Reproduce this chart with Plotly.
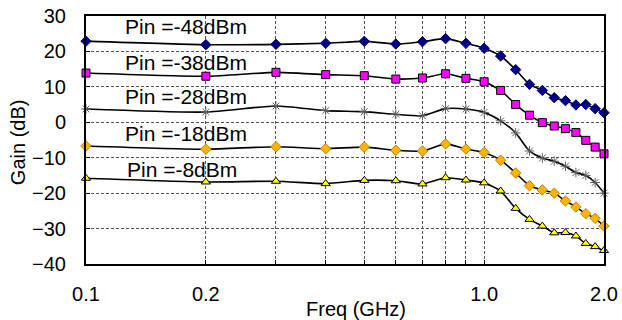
import plotly.graph_objects as go

freq = [0.1, 0.2, 0.3, 0.4, 0.5, 0.6, 0.7, 0.8, 0.9, 1.0,
        1.1, 1.2, 1.3, 1.4, 1.5, 1.6, 1.7, 1.8, 1.9, 2.0]

gain_m48 = [22.9, 21.9, 22.0, 22.3, 22.85, 22.1, 22.75, 23.6, 22.3, 20.9,
            18.7, 14.85, 10.7, 9.0, 6.95, 6.1, 4.9, 5.0, 3.85, 2.7]
gain_m38 = [13.9, 13.0, 14.1, 13.45, 13.15, 12.2, 12.5, 13.7, 12.4, 11.45,
            9.0, 5.0, 2.0, -0.1, -1.05, -1.8, -2.9, -5.1, -7.0, -8.9]
gain_m28 = [3.75, 2.9, 4.6, 3.3, 3.0, 2.25, 1.85, 3.85, 3.75, 2.8,
            0.4, -3.0, -8.1, -10.1, -11.0, -12.4, -14.2, -15.0, -17.0, -20.0]
gain_m18 = [-6.7, -7.6, -6.9, -7.45, -7.0, -7.9, -8.1, -6.1, -7.55, -8.5,
            -10.7, -14.3, -17.9, -19.1, -20.0, -22.2, -23.9, -25.8, -27.1, -29.3]
gain_m8 = [-15.8, -16.85, -16.65, -17.3, -16.4, -16.5, -17.4, -15.65, -16.3, -17.1,
           -19.4, -24.3, -27.4, -29.3, -31.2, -31.1, -32.1, -34.2, -35.1, -36.2]

labels = ["Pin =-48dBm", "Pin =-38dBm", "Pin =-28dBm", "Pin =-18dBm", "Pin =-8dBm"]

x_tickvals = [0.1, 0.2, 0.3, 0.4, 0.5, 0.6, 0.7, 0.8, 0.9, 1.0, 2.0]
x_ticktext = ["0.1", "0.2", "", "", "", "", "", "", "", "1.0", "2.0"]
y_tickvals = [-40, -30, -20, -10, 0, 10, 20, 30]

FONT = "Arial, Liberation Sans, sans-serif"

series = [
    (gain_m48, dict(symbol="diamond", size=8, color="#000080",
                    line=dict(color="#000080", width=1))),
    (gain_m38, dict(symbol="square", size=8, color="#FF00FF",
                    line=dict(color="#000000", width=1))),
    (gain_m28, dict(symbol="asterisk-open", size=8, color="#606060",
                    line=dict(color="#606060", width=1))),
    (gain_m18, dict(symbol="diamond", size=8, color="#FFB400",
                    line=dict(color="#C08000", width=1))),
    (gain_m8, dict(symbol="triangle-up", size=8, color="#FFFF00",
                   line=dict(color="#000000", width=1))),
]

fig = go.Figure()
for vals, mk in series:
    fig.add_trace(go.Scatter(
        x=freq, y=vals, mode="lines+markers",
        line=dict(color="black", width=1.6, shape="spline", smoothing=0.6),
        marker=mk, showlegend=False, cliponaxis=False,
    ))

label_pos = [(0.194, 0.957), (0.194, 0.813), (0.194, 0.675), (0.194, 0.527), (0.186, 0.383)]
for txt, (px, py) in zip(labels, label_pos):
    fig.add_annotation(text=txt, x=px, y=py, xref="paper", yref="paper",
                       showarrow=False, xanchor="center", yanchor="middle",
                       font=dict(family=FONT, size=21, color="black"))

fig.add_annotation(text="Freq (GHz)", x=0.521, y=-0.18, xref="paper", yref="paper",
                   showarrow=False, xanchor="center", yanchor="middle",
                   font=dict(family=FONT, size=20, color="black"))
fig.add_annotation(text="Gain (dB)", x=-0.131, y=0.492, xref="paper", yref="paper",
                   showarrow=False, textangle=-90, xanchor="center", yanchor="middle",
                   font=dict(family=FONT, size=20, color="black"))

fig.update_xaxes(
    type="log", range=[-1, 0.30103], automargin=False,
    tickvals=x_tickvals, ticktext=x_ticktext,
    showgrid=True, gridcolor="#555555", gridwidth=1, griddash="3px,2px",
    ticks="inside", ticklen=4, tickcolor="black",
    showline=True, linecolor="black", linewidth=2, mirror=True,
    zeroline=False, ticklabelstandoff=11,
    tickfont=dict(family=FONT, size=20, color="black"),
)
fig.update_yaxes(
    range=[-40, 30], tickvals=y_tickvals, automargin=False,
    showgrid=True, gridcolor="#555555", gridwidth=1, griddash="3px,2px",
    ticks="inside", ticklen=4, tickcolor="black",
    showline=True, linecolor="black", linewidth=2, mirror=True,
    zeroline=False, ticklabelstandoff=14,
    tickfont=dict(family=FONT, size=20, color="black"),
)

fig.update_layout(
    width=622, height=320,
    margin=dict(l=86, r=18, t=16, b=56, autoexpand=False),
    paper_bgcolor="white", plot_bgcolor="white",
    font=dict(family=FONT, color="black"),
)

fig.write_html("out.html",
               config={"displayModeBar": False},
               post_script="document.body.style.margin='0';document.body.style.padding='0';")
